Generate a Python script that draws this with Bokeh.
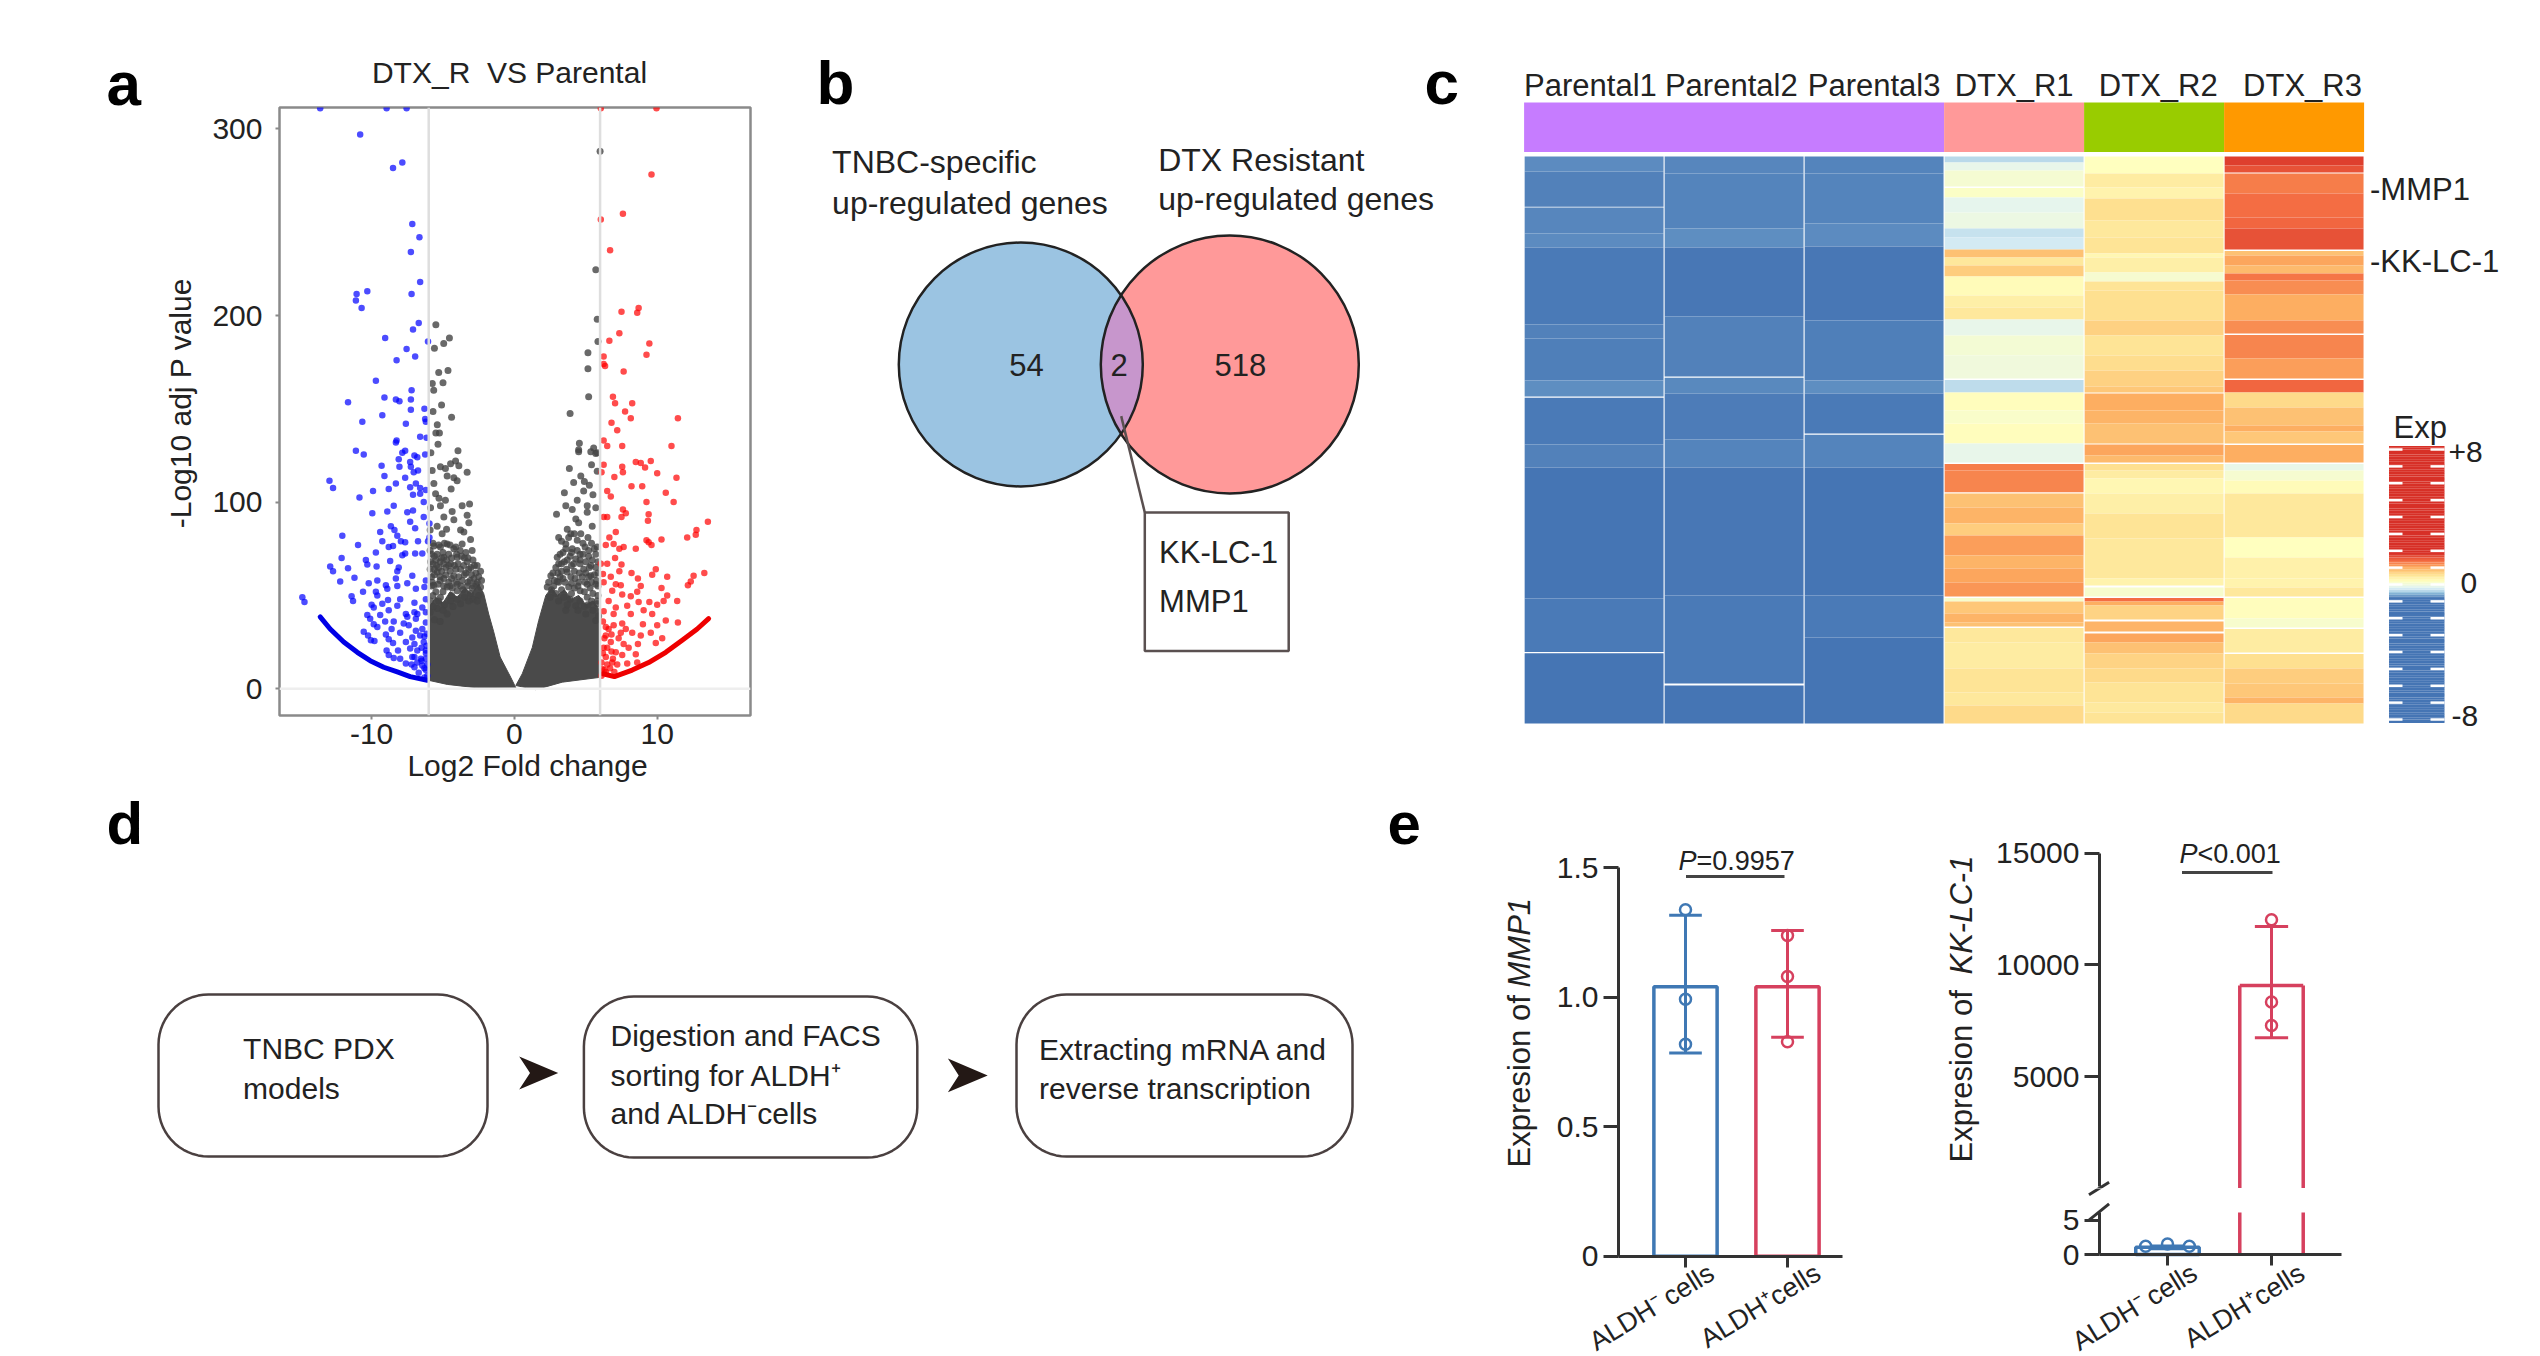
import numpy as np
from bokeh.embed import file_html
from bokeh.resources import INLINE
from bokeh.plotting import figure
from bokeh.layouts import row, column
from bokeh.models import (Range1d, FixedTicker, Label, Span, LinearColorMapper, ColumnDataSource)

FONT = "Liberation Sans"

# ---------- panel a : volcano values (log2FC, -log10 adj P) ----------
blue_pts = [(-13.6,311),(-8.95,311),(-7.55,311),(-10.8,297),(-7.85,282),(-8.5,279),(-7.15,249),(-6.65,242),(-7.25,234),(-6.6,218),
(-10.3,213),(-11.05,211.5),(-11.1,208),(-7.2,211.5),(-10.7,204),(-6.7,196),(-7.1,192.5),(-9.05,188),(-6.05,186),(-7.55,182),
(-6.95,178),(-8.25,176),(-9.7,165),(-7.2,160),(-9.1,156),(-8.3,155),(-8.05,154),(-7.25,155),(-11.65,153.5),(-7.25,149.5),
(-6.3,150),(-9.25,146.5),(-6.25,144.5),(-6.2,143),(-10.65,143),(-7.6,142),(-6.6,135),(-6.15,134.5),(-8.25,133),(-8.3,132),
(-11.1,127.5),(-10.55,125.5),(-7.65,127.5),(-7.85,126.5),(-7,125),(-6.25,125.5),
(-9.3,119.5),(-8.1,123),(-8.05,119),(-7.3,121.5),(-6.8,124),(-7.25,119),(-7.05,116),(-6.75,117),(-9.1,114),(-7.65,113),
(-12.95,111.5),(-12.7,107.5),(-8.3,110),(-9.9,106),(-8.8,107),(-7.3,108),(-6.9,110),(-6.6,107.5),(-7.1,104),(-6.2,106.5),
(-6.6,104.5),(-10.85,102.5),(-6.35,100),(-8.45,98),(-9.95,94),(-8.9,95),(-7.5,94.5),(-7.1,95.5),(-6.35,92),(-7.3,89.5),
(-5.95,88.5),(-6.95,86),(-8.65,87),(-8.4,85),(-9.4,84),(-12.05,82),(-8.2,82),(-5.95,81),(-6.05,79),(-9.25,79),
(-7.95,79),(-7.65,78.5),(-6.75,79),(-10.95,77),(-8.5,76.5),(-8.8,76),(-9.7,73),(-7.65,72.5),(-7.85,71.5),(-6.95,72.5),
(-6.45,72.5),(-12.1,70),(-10.4,69),(-8.7,68.5),(-10.3,66.5),(-9.65,65.5),(-12.9,65.5),(-11.65,64.5),(-12.7,63),(-8.1,65),
(-8.2,63),(-7.15,60.5),(-11.2,59.5),(-12.2,57.5),(-9.6,58),(-10.2,56.5),(-8.3,59),(-7.5,56.5),(-6.2,58),(-9,55.5),
(-8.2,55),(-6.9,53.5),(-6.3,54.5),(-8.9,53.5),(-10.6,52),(-9.7,52),(-9.6,50),(-11.4,49.5),(-14.85,49),(-14.7,46.5),
(-11.3,47),(-8,48),(-8.85,47.5),(-9.25,45.5),(-7,46),(-6.2,48),(-10,45),(-8.2,44.5),(-8.8,42),(-9.85,43.5),
(-6.45,43.5),(-7,41),(-7.6,40),(-10.3,39.5),(-9.4,39.5),(-6.8,40),(-6.2,41),(-10.1,37.5),(-6.9,37.5),(-7.5,38.5),
(-9.05,36),(-8.45,36),(-6.2,35.5),(-7.75,35),(-9.85,34.5),(-9.6,33),(-8.6,32),(-7.4,34),(-8,30),(-6.9,31),
(-6.45,32),(-10.55,30.5),(-10.25,28.5),(-9,29),(-10.05,26),(-9.8,25.5),(-8.8,26.5),(-7.15,27.5),(-6.6,28.5),(-6.15,29.5),
(-8.5,24.5),(-7.6,25),(-7,24),(-6.35,25),(-8.95,20.5),(-8.15,20.5),(-7.3,21.5),(-6.8,20.5),(-6.2,20.5),(-8.8,18),
(-8,16),(-8.45,16.5),(-7.15,17),(-6.55,16),(-6.2,16),(-7.6,13.5),(-7,11.5),(-6.45,12.5),(-6.2,10),(-6.7,8.5),
(-6.3,6),(-6.1,7),(-6.3,11),(-6.5,15),(-6.1,13),(-6.8,14),(-6.2,19),(-6.5,22),(-7,17),(-6.3,28),(-7.2,13),(-6.15,23)]
blue_arc_x = [-13.6,-12.9,-11.95,-11,-10.1,-9.15,-8.2,-7.3,-6.1]
blue_arc_y = [38.5,32,25,19.5,15,11.5,9,6.5,4.5]

red_pts = [(6.05,311),(9.95,311),(9.6,275.5),(7.6,254.5),(6.05,251.5),(6.7,235),(8.7,204),(8.6,201.5),(7.5,202),(7.35,190.5),
(6.65,186.5),(9.45,185),(9.25,179),(6.25,178),(6.25,174),(6.35,173),(7.65,170),(6.9,156.5),(7.05,153),(8.25,153),
(7.75,148.5),(8.15,145),(11.45,145),(6.8,142.5),(7.2,138.5),(6.25,133),(6.5,130),(7.55,130),(11,130),
(6.25,120),(7.55,119),(8.5,121.5),(8.85,121),(9.15,118.5),(9.55,122),(6.1,116),(7.6,116),(7,113.5),(10,115.5),
(11.35,113),(8.2,108.5),(8.95,108.5),(6.5,106),(10.6,105),(6.75,103),(9.25,100),(11.15,100),(7.6,96),(7.8,94),
(9.4,93.5),(6.25,92),(6.5,92),(7.5,92),(9.35,90),(13.55,89.5),(12.75,85),(7.1,84),(12.7,82.5),(12.1,81),
(6.65,81),(10.3,80),(9.25,79.5),(9.4,78.5),(9.6,77),(6.4,77),(6.95,77.5),(7.35,75),(7.65,76),(8.5,75),
(6.05,67),(6.5,67),(7.05,70),(7.5,66.5),(7.35,63),(8.2,62),(9.9,64),(9.65,61),(10.7,60),(13.3,62),
(12.55,60.5),(12.35,57.5),(12.15,55.5),(6.2,61.5),(6.75,60),(8.65,59),(6.25,57),(7.1,56),(8.85,55),(10.3,54),
(7.45,55.5),(6.85,52.5),(8.6,52),(8.15,49.5),(7.55,50.5),(10.7,50),(6.6,47),(8.7,46.5),(9.45,46.5),(10.45,47),
(11.4,47),(7.9,44.5),(10,45),(7.1,43.5),(6.25,41.5),(6.95,40),(9.05,42),(9.65,40),(8.15,40),(10.6,36.5),
(11.45,35.5),(9,34.5),(6.95,34),(7.55,35),(6.4,33),(10,34),(7.45,30),(8.25,30),(9.55,30),(6.4,28.5),
(10.35,27),(8.85,28.5),(9.9,24.5),(6.75,25),(7.65,24),(8.65,24),(6.25,22),(8,22),(7.1,19.5),(8.5,18.5),
(7.55,18),(6.4,17),(7.9,13.5),(6.85,14),(8.6,14),(6.15,10.5),(6.5,13),(6.1,14),(6.3,10),(6.1,7),
(6.4,9),(6.7,11),(6.2,19),(6.8,20),(6.5,22),(6.3,27),(6.9,16),(7.2,13),(7,9),(6.6,32),(6.2,36),(6.8,29),(7.3,27),(7.8,32)]
red_arc_x = [6.2,7,8.25,9.4,10.6,11.75,12.8,13.6]
red_arc_y = [8,6.5,10,14,19.5,26,32,37.5]

grey_pts = [(-5.5,195),(-4.55,188),(-4.95,185),(-5.6,182.5),(-4.65,170.5),(-5.3,169.5),(-5.75,163.5),(-5,164),(-5.65,160),(-5.1,152),
(-5.7,148.5),(-4.4,145.5),(-5.4,141.5),(-5.5,137),(-5.25,137),(-5.35,131),(-5.85,126.5),(-3.95,127.5),
(-5.76,117),(-5.18,119),(-4.83,118),(-4.47,120.5),(-4.12,122),(-3.89,119.5),(-3.31,116),(-5.64,110),(-4.71,114),(-4.24,113),
(-4.01,111.5),(-4.43,107),(-5.52,104.5),(-5.28,102),(-4.83,101),(-5.87,97),(-5.18,98),(-4.94,92),(-4.36,95),(-3.66,98),
(-3.14,99),(-3.31,93),(-3.19,89),(-4.24,90.5),(-5.41,87),(-5.9,85),(-4.75,85.5),(-3.77,85),(-3.54,84),(-3.07,80),
(-5.06,83),(-5.64,76.5),(-5.18,76),(-4.71,77.5),(-4.24,75),(-3.66,77.5),(-2.96,74),(-5.9,74),(-5.41,72),(-4.94,70.5),
(-4.01,70.5),(-3.31,68),(-2.61,66),(-2.37,63),(-5.87,68),(-4.47,67),(-3.77,64),(-5.41,62.5),(-4.94,59),(-4.24,60.5),
(-3.66,58),(-2.84,59),(-2.37,54.5),(-5.64,55.5),(-4.71,54.5),(-4.01,52.5),(-3.07,51),(-5.87,47),(-5.18,49),(-4.47,47),
(-3.77,45.5),(-5.41,43),(-4.71,40),(-5.7,78),(-5.3,77),(-4.9,78),(-4.5,77),(-4.1,76),(-3.8,74),(-3.4,73),(-5.6,71),(-5,73),
(-4.6,72),(-3.5,70),(-2.9,69),(-5.2,68),(-4.2,66),(-2.7,62),(-5.6,64),(-5.1,63),(-4.5,63),(-3.4,62),(-3,61),(-5.8,60),
(-5.2,58),(-4.6,57),(-4,56),(-3.3,55),(-2.7,56),(-5.5,52),(-5,52),(-4.4,50),(-3.5,49),(-2.9,48),(-2.5,50),(-5.7,50),(-4.9,45),(-5.9,41),(-5.6,37),(-5.2,36),
(6,288),(5.7,224.5),(5.8,198),(5.85,186),(5.15,180),(5.15,171.5),(5.2,156.5),(3.9,147.5),(4.55,131.5),(4.5,128),(5.55,129),(5.35,127),(5.8,126.5),
(4.5,127),(5.7,126),(5.4,120),(5.8,116.5),(3.85,118),(4.65,114),(4.9,111),(4.15,110.5),(5.25,109),(3.5,105),(4.85,106),(5.5,104),
(4.4,101),(3.6,98),(4.05,96),(5.1,98),(5.7,97),(2.95,93.5),(5.1,94.5),(4.3,91),(4.5,89),(5.45,87),(3.7,85.5),(3.1,81),
(4.65,83),(3.95,83),(5.15,81),(3.6,77.5),(4.4,79.5),(5.8,76),(3,70.5),(4.95,76),(4.05,75),(3.1,67),(4.3,69.5),(5.35,66),
(5.7,65),(3.7,62.5),(2.55,60.5),(4.85,64),(4.25,59),(5.35,60.5),(3.1,57),(2.3,54.5),(3.8,54.5),(5.7,56),(4.6,52.5),(2.9,51),
(5.1,49),(4.3,44.5),(5.8,45.5),(3.6,42),(5,40),(5.7,36.5),(3.3,79),(3.8,81),(4.2,83),(4.8,78),(5.4,78),(3.4,73),(3.9,71),
(4.6,72),(5.2,71),(5.7,72),(3.3,63),(4,66),(4.6,67),(5,62),(5.6,61),(2.8,58),(3.4,59),(4.5,57),(5.1,56),(2.6,53),(3.3,53),
(4,51),(4.9,52),(5.5,51),(5.85,50),(4.6,47),(5.4,47),(3.9,48),(4.9,44),(5.5,42),(5.9,39),
(-5.9,64),(-5.45,66),(-4.8,65),(-3.95,67),(-3.2,64),(-5.75,57),(-4.35,54),(-3.6,53),(-2.95,54),(-5.3,47),(-4,48),(-3.2,47),(-2.6,47),(-5.7,44),(-5,42),(-4.3,44),
(2.75,55),(3.05,62),(3.5,68),(3.95,60),(4.55,62),(5.25,65),(5.75,58),(3.45,49),(4.2,54),(5.3,54),(2.5,49),(3.1,47),(3.7,45),(4.45,42),(5.15,45),(5.8,47),
(-5.8,72),(-5.5,69),(-5.1,70),(-4.75,69),(-4.4,70),(-4.05,72),(-3.7,71),(-3.25,70),(-2.8,66),(-5.7,67),(-5.3,65),(-4.95,67),(-4.6,66),(-4.1,64),(-3.55,66),(-3.05,65),(-2.5,60),
(-5.6,61),(-5.2,60),(-4.8,61),(-4.4,59),(-3.9,60),(-3.5,61),(-3.1,58),(-2.6,57),(-5.8,55),(-5.35,56),(-4.95,55),(-4.5,55),(-4.1,57),(-3.75,55),(-3.25,57),(-2.85,55),(-2.3,58),
(3.2,72),(3.6,75),(4,73),(4.4,74),(4.8,72),(5.2,74),(5.6,75),(5.85,68),(2.9,65),(3.3,67),(3.7,69),(4.15,67),(4.6,69),(5,68),(5.45,69),(2.7,62),(3.2,60),(3.65,64),(4.2,63),(4.75,60),(5.2,60),(5.85,62),(2.4,57),(3,57.5),(3.55,57),(4,56.5),(4.45,55),(4.95,57),(5.4,57),(5.85,55)]

grey_left_x = [-5.95,-5.5,-5,-4.5,-4,-3.5,-3,-2.5,-2.15,-1.8,-1.45,-1,-0.25,0.1,-2.4,-4.7,-5.95]
grey_left_y = [44,49,46,52,49,54,51,56,51,40,30.5,17,6,0.5,0.3,2.3,4.4]
grey_right_x = [0.1,0.55,1.25,1.7,2.2,2.6,3,3.5,4,4.5,5,5.5,5.9,5.9,3.35,1.5]
grey_right_y = [1.7,8,22,36.5,50,54,50,53,48,50,45,47,43,6,3.5,-0.5]

# ---------- panel b ----------
venn_cx = [1020.3, 1229.3]
venn_cy = [364, 364]
venn_r = [122, 129]
venn_counts = ["54", "2", "518"]
venn_count_x = [1026, 1118.6, 1239.8]

# ---------- panel c : heat-map bands (start, end, expression) per sample ----------
p1_bands = [(0,15,-.71),(15,50.2,-.75),(51,77,-.73),(77,91,-.71),(91,168,-.78),(168,182,-.75),(182,224,-.76),(224,240,-.7),(241.2,288,-.78),(288,311,-.75),(311,442,-.8),(442,495.5,-.78),(496.7,567,-.81)]
p2_bands = [(0,17,-.73),(17,72,-.74),(72,91,-.7),(91,160,-.79),(160,220,-.75),(221.2,237,-.72),(237,283,-.77),(283,311,-.74),(311,439,-.79),(439,527,-.78),(529,567,-.8)]
p3_bands = [(0,17,-.74),(17,67,-.74),(67,90,-.71),(90,164,-.79),(164,224,-.76),(224,237,-.7),(237,277,-.78),(278.2,311,-.74),(311,439,-.8),(439,481,-.78),(481,567,-.8)]
r1_bands = [(0,6,-.35),(6,14,-.1),(14,30,.07),(31.5,41,.15),(41,56,-.12),(56,72,-.05),(72,81,-.3),(81,93,-.25),(93,101,.85),(101,109,.5),(109,120,.75),(120,139,.25),(139,151,.4),(151,163,.5),(163,179,-.1),(179,199,.05),(199,222,0),(223.5,236,-.33),(236,254,.22),(254,267,.12),(267,287,.22),(287,306,-.1),(307.5,314,1.3),(314,335.7,1.25),(337,351,.85),(351,367,.95),(367,379,.75),(379,399,1.1),(399,412,.95),(412,426,1.05),(426,440,1.15),(441.5,445,.1),(445,457,.8),(457,466,.95),(466,470,.85),(471.5,486,.5),(486,512,.45),(512,536,.55),(536,549,.5),(549,567,.65)]
r2_bands = [(0,17,.2),(17,31,.45),(31,42,.35),(42,64,.6),(64,81,.5),(81,97,.55),(97,101,.3),(101,116,.4),(116,125,.08),(125,134,.55),(134,164,.6),(164,179,.72),(179,199,.55),(199,214,.62),(214,230,.72),(230,236,.8),(237,254,1),(254,267,.95),(267,287,.85),(288,299,1.05),(299,306,.9),(307.5,314,.6),(314,322,.45),(322,337,.3),(337,357,.4),(357,382,.55),(382,422,.5),(422,429,.35),(431,440,.1),(441.5,445,1.4),(445,449,1),(449,463,.7),(465,475,.95),(477,486,1.05),(486,497,.85),(497,512,.7),(512,526,.65),(526,546,.55),(546,556,.48),(556,567,.55)]
r3_bands = [(0,9,1.75),(9,16,1.6),(17,37,1.3),(37,61,1.4),(61,72,1.45),(72,93,1.6),(94.5,99,.85),(99,109,1.05),(109,117,.9),(117,124,1.35),(124,138,1.2),(138,164,1),(164,177,1.2),(178.5,202,1.25),(202,222,1.1),(223.5,236,1.45),(236,251,.65),(251,269,.85),(269,275,1),(275,287,.8),(288.5,306,1),(307.5,314,-.08),(314,324,.08),(324,337,.25),(337,381,.5),(381,401,.2),(401,422,.38),(422,431,.35),(431,440,.5),(441.5,462,.22),(462,471,.1),(472.5,496,.45),(497.5,512,.6),(512,527,.75),(527,541,.8),(541,547,.95),(547,567,.65)]
heat_columns = [p1_bands, p2_bands, p3_bands, r1_bands, r2_bands, r3_bands]
sample_labels = ["Parental1", "Parental2", "Parental3", "DTX_R1", "DTX_R2", "DTX_R3"]
sample_label_x = [0.474, 1.48, 2.5, 3.5, 4.53, 5.56]
group_left = [0, 3, 4, 5]
group_right = [3, 4, 5, 6]
group_colors = ["#c67cff", "#ff9999", "#99cc00", "#ff9900"]
cmap_stops = [-8, -0.8, -0.5, -0.2, 0.2, 0.6, 1.0, 1.4, 1.86, 8]
cmap_colors = ["#4575b4", "#4575b4", "#91bfdb", "#e0f3f8", "#ffffbf", "#fee090", "#fdae61", "#f46d43", "#d73027", "#d73027"]

# ---------- panel e ----------
mmp1_mean = [1.04, 1.04]
mmp1_err_low = [0.785, 0.845]
mmp1_err_high = [1.316, 1.258]
mmp1_points_neg = [1.338, 0.992, 0.818]
mmp1_points_pos = [1.238, 1.08, 0.828]
kk_mean = [1.05, 9081]
kk_err_low = [0.85, 6743]
kk_err_high = [1.25, 11722]
kk_points_neg = [1.2, 1.54, 1.2]
kk_points_neg_x = [0.79, 1.0, 1.21]
kk_points_pos = [12022, 8344, 7293]
cell_labels = ["ALDH\u207b\u2009cells", "ALDH\u207acells"]
BLUE, RED = "#3f78b4", "#d6405e"
INK = "#222222"


def T(p, x, y, s, size=30, align="left", base="middle", style="normal", color=INK, angle=0):
    p.add_layout(Label(x=float(x), y=float(y), text=s, text_font=FONT, text_font_size=f"{size}px",
                       text_font_style=style, text_align=align, text_baseline=base,
                       text_color=color, angle=angle))


def blank(w, h, xr, yr):
    p = figure(width=w, height=h, x_range=Range1d(*xr), y_range=Range1d(*yr), output_backend="svg",
               toolbar_location=None, x_axis_type=None, y_axis_type=None, min_border=0, frame_align=False,
               outline_line_color=None, background_fill_color="white", border_fill_color="white")
    return p


def style_axis(ax, size=30):
    ax.major_label_text_font = FONT
    ax.major_label_text_font_size = f"{size}px"
    ax.major_label_text_color = INK
    ax.axis_label_text_font = FONT
    ax.axis_label_text_font_size = f"{size}px"
    ax.axis_label_text_font_style = "normal"
    ax.axis_label_text_color = INK


# ---------------- panel a ----------------
a_x = lambda px: (px - 513.9) / 14.28
a_y = lambda py: (688.2 - py) / 1.866
sl = blank(142, 782, (8, 150), (790, 8))
T(sl, 106, 83, "a", size=62, style="bold", color="black")
sa = blank(630, 97, (150, 780), (105, 8))
T(sa, 509, 72, "DTX_R\u00a0 VS Parental", align="center")
pa = figure(width=630, height=685, x_range=Range1d(a_x(279), a_x(750)), y_range=Range1d(a_y(715), a_y(107)),
            output_backend="svg", toolbar_location=None, min_border_left=129, min_border_right=30,
            min_border_top=2, min_border_bottom=75, frame_align=False)
pa.grid.visible = False
pa.outline_line_color = "#8a8a8a"
pa.outline_line_width = 2.5
for ax in (pa.xaxis[0], pa.yaxis[0]):
    style_axis(ax)
    ax.axis_line_color = None
    ax.major_tick_line_color = "#8a8a8a"
    ax.major_tick_line_width = 2
    ax.major_tick_in = 0
    ax.major_tick_out = 4
    ax.minor_tick_line_color = None
pa.xaxis[0].ticker = FixedTicker(ticks=[-10, 0, 10])
pa.xaxis[0].major_label_overrides = {-10: "-10", 0: "0", 10: "10"}
pa.yaxis[0].ticker = FixedTicker(ticks=[0, 100, 200, 300])
pa.xaxis[0].axis_label = "\u00a0\u00a0\u00a0Log2 Fold change"
pa.yaxis[0].axis_label = "\u00a0\u00a0-Log10 adj P value"
pa.xaxis[0].major_label_standoff = 4
pa.xaxis[0].axis_label_standoff = 2
pa.yaxis[0].major_label_standoff = 13
pa.yaxis[0].axis_label_standoff = 12
for v in (-6, 6):
    pa.add_layout(Span(location=v, dimension="height", line_color="#dedede", line_width=2.5))
pa.add_layout(Span(location=0, dimension="width", line_color="#eeeeee", line_width=2.5))
pa.patch(grey_left_x, grey_left_y, fill_color="#4a4a4a", line_color="#4a4a4a")
pa.patch(grey_right_x, grey_right_y, fill_color="#4a4a4a", line_color="#4a4a4a")
pa.scatter([q[0] for q in grey_pts], [q[1] for q in grey_pts], size=7, fill_color="#444444", fill_alpha=.8, line_color=None)
pa.scatter([q[0] for q in blue_pts], [q[1] for q in blue_pts], size=6.5, fill_color="#0000ff", fill_alpha=.7, line_color=None)
pa.scatter([q[0] for q in red_pts], [q[1] for q in red_pts], size=6.5, fill_color="#ff0000", fill_alpha=.7, line_color=None)
pa.line(blue_arc_x, blue_arc_y, line_color="#0000e6", line_width=5, line_cap="round", line_join="round")
pa.line(red_arc_x, red_arc_y, line_color="#ee0000", line_width=5, line_cap="round", line_join="round")

# ---------------- panel b ----------------
pb = blank(690, 782, (780, 1470), (790, 8))
pb.circle(venn_cx[:1], venn_cy[:1], radius=venn_r[0], fill_color="#9bc4e2", line_color=None)
pb.circle(venn_cx[1:], venn_cy[1:], radius=venn_r[1], fill_color="#ff9999", line_color=None)
d = venn_cx[1] - venn_cx[0]
aa = (d**2 + venn_r[0]**2 - venn_r[1]**2) / (2 * d)
hh = np.sqrt(venn_r[0]**2 - aa**2)
t0 = np.arcsin(hh / venn_r[0]); t1 = np.arcsin(hh / venn_r[1])
ang0 = np.linspace(-t0, t0, 40); ang1 = np.linspace(t1, -t1, 40)
lx = np.r_[venn_cx[0] + venn_r[0] * np.cos(ang0), venn_cx[1] - venn_r[1] * np.cos(ang1)]
ly = np.r_[venn_cy[0] + venn_r[0] * np.sin(ang0), venn_cy[1] + venn_r[1] * np.sin(ang1)]
pb.patch(lx, ly, fill_color="#c796cc", line_color=None)
pb.circle(venn_cx[:1], venn_cy[:1], radius=venn_r[0], fill_color=None, line_color="#222222", line_width=2.5)
pb.circle(venn_cx[1:], venn_cy[1:], radius=venn_r[1], fill_color=None, line_color="#222222", line_width=2.5)
pb.line([1120.7, 1144.3], [415.6, 512], line_color="#5a5050", line_width=2.5)
pb.quad(left=[1144.3], right=[1288.2], top=[512], bottom=[650.6], fill_color="white", line_color="#5a5050", line_width=2.5)
T(pb, 816, 82, "b", size=62, style="bold", color="black")
T(pb, 1424, 82, "c", size=62, style="bold", color="black")
T(pb, 831.6, 161.7, "TNBC-specific", size=32)
T(pb, 831.6, 202, "up-regulated genes", size=32)
T(pb, 1157.7, 159, "DTX Resistant", size=32)
T(pb, 1157.7, 198.7, "up-regulated genes", size=32)
for s, x in zip(venn_counts, venn_count_x):
    T(pb, x, 364, s, size=31, align="center")
T(pb, 1158.6, 552, "KK-LC-1", size=31)
T(pb, 1158.6, 601, "MMP1", size=31)

# ---------------- panel c ----------------
c_x = lambda px: (px - 1523.6) / 140.0
c_y = lambda py: py - 156.0
pc = blank(1062, 782, (c_x(1470), c_x(2532)), (c_y(790), c_y(8)))
pc.extra_y_ranges["exp"] = Range1d((584 - 790) / 16.875, (584 - 8) / 16.875)
xs = np.linspace(-8, 8, 1601)
rgb = np.array([[int(c[i:i + 2], 16) for i in (1, 3, 5)] for c in cmap_colors], float)
pal = ["#%02x%02x%02x" % tuple(int(round(np.interp(v, cmap_stops, rgb[:, k]))) for k in range(3)) for v in xs]
mapper = LinearColorMapper(palette=pal, low=-8, high=8)
pc.quad(left=group_left, right=group_right, top=[-54] * 4, bottom=[-4.4] * 4, fill_color=group_colors, line_color=None)
L, R, TOP, BOT, V = [], [], [], [], []
for i, bands in enumerate(heat_columns):
    for s, e, v in bands:
        L.append(i + 0.004); R.append(i + 0.996); TOP.append(s); BOT.append(e); V.append(v)
src = ColumnDataSource(dict(l=L, r=R, t=TOP, b=BOT, v=V))
pc.quad(left="l", right="r", top="t", bottom="b", source=src, line_color=None,
        fill_color={"field": "v", "transform": mapper})
cb = np.arange(-8.2, 8.2, 0.1)
cb_src = ColumnDataSource(dict(b=cb, t=cb + 0.105, v=np.clip(cb + .05, -8, 8)))
pc.quad(left=c_x(2388.5), right=c_x(2444), bottom="b", top="t", source=cb_src, y_range_name="exp",
        line_color=None, fill_color={"field": "v", "transform": mapper})
cb_ticks = list(range(-8, 9))
pc.segment(x0=[c_x(2388.5)] * 17, x1=[c_x(2402)] * 17, y0=cb_ticks, y1=cb_ticks, y_range_name="exp", line_color="white", line_width=2.5)
pc.segment(x0=[c_x(2430)] * 17, x1=[c_x(2444)] * 17, y0=cb_ticks, y1=cb_ticks, y_range_name="exp", line_color="white", line_width=2.5)
for s, x in zip(sample_labels, sample_label_x):
    T(pc, x, c_y(84.5), s, size=31, align="center")
T(pc, c_x(2369.5), c_y(189), "-MMP1", size=31)
T(pc, c_x(2369.5), c_y(261), "-KK-LC-1", size=31)
T(pc, c_x(2393), c_y(426.7), "Exp", size=31)
T(pc, c_x(2448), c_y(451.7), "+8")
T(pc, c_x(2460), c_y(582.7), "0")
T(pc, c_x(2451), c_y(715), "-8")

# ---------------- panel d ----------------
pd_ = blank(1472, 566, (8, 1480), (1356, 790))
box_left = [158, 583.4, 1016]
box_right = [487, 916.8, 1352]
box_top = [994, 996, 994]
box_bottom = [1156, 1157, 1156]
rad = 50
for l, r, t, b in zip(box_left, box_right, box_top, box_bottom):
    th = np.linspace(0, np.pi / 2, 16)
    bx = np.r_[r - rad + rad * np.sin(th), r - rad + rad * np.cos(th), l + rad - rad * np.sin(th), l + rad - rad * np.cos(th)]
    by = np.r_[t + rad - rad * np.cos(th), b - rad + rad * np.sin(th), b - rad + rad * np.cos(th), t + rad - rad * np.sin(th)]
    pd_.patch(bx, by, fill_color="white", line_color="#4a4040", line_width=2.5)
pd_.patch([518.7, 557.7, 518.7, 529.5], [1056, 1072.5, 1089, 1072.5], fill_color="#231815", line_color=None)
pd_.patch([947.4, 987.2, 947.4, 958.2], [1058, 1075, 1091.7, 1075], fill_color="#231815", line_color=None)
T(pd_, 106, 823, "d", size=60, style="bold", color="black")
T(pd_, 1387, 823, "e", size=60, style="bold", color="black")
T(pd_, 242.6, 1048, "TNBC PDX")
T(pd_, 242.6, 1087.7, "models")
T(pd_, 610, 1035, "Digestion and FACS")
T(pd_, 610, 1075, "sorting for ALDH\u207a")
T(pd_, 610, 1112.7, "and ALDH\u207bcells")
T(pd_, 1038.6, 1049, "Extracting mRNA and")
T(pd_, 1038.6, 1087.7, "reverse transcription")


def style_e(ax, tick_out=15):
    style_axis(ax)
    ax.axis_line_color = "#333333"
    ax.axis_line_width = 3
    ax.major_tick_line_color = "#333333"
    ax.major_tick_line_width = 3
    ax.major_tick_in = 0
    ax.major_tick_out = tick_out
    ax.minor_tick_line_color = None
    ax.major_label_standoff = 5


def open_fig(w, h, xr, yr, **kw):
    p = figure(width=w, height=h, x_range=Range1d(*xr), y_range=Range1d(*yr), output_backend="svg",
               toolbar_location=None, min_border=0, frame_align=False, outline_line_color=None, **kw)
    p.grid.visible = False
    return p


# ---------------- panel e, MMP1 ----------------
e1_x = lambda px: 1 + (px - 1685) / 102.0
e1_y = lambda py: (1255.7 - py) / 259.0
pe1 = open_fig(465, 566, (e1_x(1480), e1_x(1945)), (e1_y(1356), e1_y(790)))
style_e(pe1.yaxis[0]); style_e(pe1.xaxis[0], 11)
pe1.yaxis[0].fixed_location = e1_x(1618)
pe1.yaxis[0].bounds = (0, 1.5)
pe1.xaxis[0].fixed_location = 0
pe1.xaxis[0].bounds = (e1_x(1618), e1_x(1842))
pe1.yaxis[0].ticker = FixedTicker(ticks=[0, .5, 1, 1.5])
pe1.yaxis[0].major_label_overrides = {0: "0", 0.5: "0.5", 1: "1.0", 1.5: "1.5"}
pe1.xaxis[0].ticker = FixedTicker(ticks=[1, 2])
pe1.xaxis[0].major_label_overrides = {1: "", 2: ""}
pe1.vbar(x=[1, 2], top=mmp1_mean, bottom=0, width=.62, fill_color=None, line_color=[BLUE, RED], line_width=3.5)
pe1.segment([1, 2], mmp1_err_low, [1, 2], mmp1_err_high, line_color=[BLUE, RED], line_width=3)
for arr in (mmp1_err_low, mmp1_err_high):
    pe1.segment([.84, 1.84], arr, [1.16, 2.16], arr, line_color=[BLUE, RED], line_width=3)
pe1.scatter([1] * 3, mmp1_points_neg, size=11, fill_color=None, line_color=BLUE, line_width=2.5)
pe1.scatter([2] * 3, mmp1_points_pos, size=11, fill_color=None, line_color=RED, line_width=2.5)
pe1.line([e1_x(1685.5), e1_x(1784)], [e1_y(876)] * 2, line_color="#444444", line_width=3)
T(pe1, e1_x(1678), e1_y(860), "P", size=27, style="italic")
T(pe1, e1_x(1696), e1_y(860), "=0.9957", size=27)
T(pe1, e1_x(1519), e1_y(1167), "Expresion of ", size=31, angle=np.pi / 2)
T(pe1, e1_x(1519), e1_y(987), "MMP1", size=31, style="italic", angle=np.pi / 2)
T(pe1, e1_x(1711), e1_y(1270), cell_labels[0], size=27, align="right", angle=0.55)
T(pe1, e1_x(1817.5), e1_y(1270), cell_labels[1], size=27, align="right", angle=0.55)

# ---------------- panel e, KK-LC-1 (broken axis) ----------------
e2_x = lambda px: 1 + (px - 2167) / 104.0
e2_y = lambda py: 5000 + (1076.3 - py) * 44.7
e3_y = lambda py: (1254 - py) / 6.88
xr2 = (e2_x(1945), e2_x(2532))
pu = open_fig(587, 398, xr2, (e2_y(1188), e2_y(790)), x_axis_type=None)
pl = open_fig(587, 168, xr2, (e3_y(1356), e3_y(1188)))
style_e(pu.yaxis[0]); style_e(pl.yaxis[0]); style_e(pl.xaxis[0], 11)
pu.yaxis[0].fixed_location = e2_x(2099)
pu.yaxis[0].bounds = (e2_y(1186), 15000)
pl.yaxis[0].fixed_location = e2_x(2099)
pl.yaxis[0].bounds = (0, e3_y(1212))
pl.xaxis[0].fixed_location = 0
pl.xaxis[0].bounds = (e2_x(2099), e2_x(2341))
pu.yaxis[0].ticker = FixedTicker(ticks=[5000, 10000, 15000])
pl.yaxis[0].ticker = FixedTicker(ticks=[0, 5])
pl.xaxis[0].ticker = FixedTicker(ticks=[1, 2])
pl.xaxis[0].major_label_overrides = {1: "", 2: ""}
leg = 0.305
pu.segment([2 - leg, 2 + leg, 2 - leg], [e2_y(1188), e2_y(1188), kk_mean[1]],
           [2 - leg, 2 + leg, 2 + leg], [kk_mean[1]] * 3, line_color=RED, line_width=3.5)
pl.segment([2 - leg, 2 + leg], [0, 0], [2 - leg, 2 + leg], [e3_y(1212)] * 2, line_color=RED, line_width=3.5)
pl.vbar(x=[1], top=kk_mean[:1], bottom=0, width=.61, fill_color=None, line_color=BLUE, line_width=3.5)
pu.segment([2], kk_err_low[1:], [2], kk_err_high[1:], line_color=RED, line_width=3)
pl.segment([1], kk_err_low[:1], [1], kk_err_high[:1], line_color=BLUE, line_width=3)
for arr in (kk_err_low, kk_err_high):
    pu.segment([1.84], arr[1:], [2.16], arr[1:], line_color=RED, line_width=3)
    pl.segment([.84], arr[:1], [1.16], arr[:1], line_color=BLUE, line_width=3)
pl.scatter(kk_points_neg_x, kk_points_neg, size=11, fill_color=None, line_color=BLUE, line_width=2.5)
pu.scatter([2] * 3, kk_points_pos, size=11, fill_color=None, line_color=RED, line_width=2.5)
pu.line([e2_x(2181.5), e2_x(2272)], [e2_y(872)] * 2, line_color="#444444", line_width=3)
T(pu, e2_x(2179), e2_y(853), "P", size=27, style="italic")
T(pu, e2_x(2197), e2_y(853), "<0.001", size=27)
T(pu, e2_x(1961), e2_y(1162), "Expresion of ", size=31, angle=np.pi / 2)
T(pu, e2_x(1961), e2_y(974), "KK-LC-1", size=31, style="italic", angle=np.pi / 2)
T(pl, e2_x(2194), e3_y(1270), cell_labels[0], size=27, align="right", angle=0.55)
T(pl, e2_x(2301.5), e3_y(1270), cell_labels[1], size=27, align="right", angle=0.55)
pu.line([e2_x(2088.5), e2_x(2108.6)], [e2_y(1194.3), e2_y(1181.7)], line_color="#333333", line_width=3)
pl.line([e2_x(2088.5), e2_x(2108.6)], [e3_y(1194.3), e3_y(1181.7)], line_color="#333333", line_width=3)
pl.line([e2_x(2088.5), e2_x(2108.6)], [e3_y(1219.6), e3_y(1203.3)], line_color="#333333", line_width=3)

layout = column(row(sl, column(sa, pa, spacing=0), pb, pc, spacing=0),
                row(pd_, pe1, column(pu, pl, spacing=0), spacing=0), spacing=0, margin=(8, 0, 0, 8))
open("out.html", "w").write(file_html(layout, INLINE))
